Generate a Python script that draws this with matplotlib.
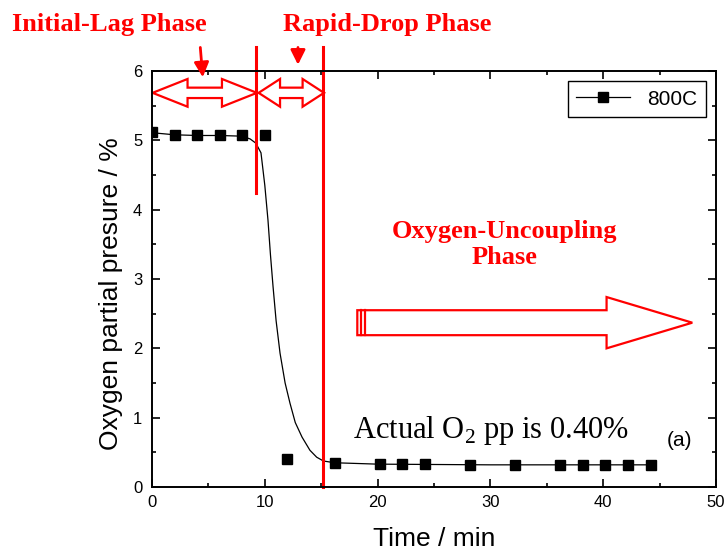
import numpy as np
import matplotlib.pyplot as plt
from matplotlib.patches import Polygon
from matplotlib.lines import Line2D
from matplotlib.ticker import MultipleLocator


## Data
# measured oxygen partial pressure at 800C
time_min = [0, 2, 4, 6, 8, 10, 12, 16.2, 20.2, 22.2, 24.2, 28.2, 32.2, 36.2, 38.2, 40.2, 42.2, 44.2]
o2_pp = [5.12, 5.08, 5.07, 5.07, 5.07, 5.08, 0.40, 0.35, 0.33, 0.33, 0.33, 0.32, 0.32, 0.32, 0.32, 0.32, 0.32, 0.32]

# fitted curve
fit_time = [0, 2, 4, 6, 8, 8.7, 9.2, 9.66, 10.0, 10.28, 10.5, 10.73, 11.0, 11.35, 11.8,
            12.23, 12.7, 13.3, 14.0, 14.6, 15.2, 16.2, 20, 25, 30, 35, 40, 44.2]
fit_o2 = [5.11, 5.08, 5.07, 5.07, 5.06, 5.02, 4.96, 4.82, 4.35, 3.85, 3.35, 2.89, 2.4, 1.93, 1.5,
          1.21, 0.93, 0.72, 0.53, 0.43, 0.375, 0.35, 0.33, 0.325, 0.32, 0.32, 0.32, 0.32]

# phase boundaries (min)
lag_end = 9.2
drop_end = 15.2

label_series = '800C'

plt.rcParams['font.family'] = ['Liberation Sans', 'DejaVu Sans']
plt.rcParams['mathtext.fontset'] = 'custom'
plt.rcParams['mathtext.rm'] = 'Liberation Serif'
RED = '#ff0000'
serif = ['Liberation Serif', 'DejaVu Serif']

## Plotting
fig = plt.figure(figsize=(7.26, 5.5), dpi=100)
ax = fig.add_axes([0.2094, 0.1145, 0.7768, 0.7564])

ax.plot(fit_time, fit_o2, 'k-', lw=0.9)
ax.plot(time_min, o2_pp, 'ks', ms=7, ls='none')

ax.set_xlim(0, 50)
ax.set_ylim(0, 6)
ax.xaxis.set_major_locator(MultipleLocator(10))
ax.xaxis.set_minor_locator(MultipleLocator(5))
ax.yaxis.set_major_locator(MultipleLocator(1))
ax.yaxis.set_minor_locator(MultipleLocator(0.5))
ax.tick_params(which='both', direction='in', top=True, right=True, width=1.2, labelsize=12)
ax.tick_params(which='major', length=6)
ax.tick_params(which='minor', length=3)
ax.tick_params(axis='x', pad=6)
ax.tick_params(axis='y', pad=7)
for sp in ax.spines.values():
    sp.set_linewidth(1.4)

ax.set_xlabel('Time / min', fontsize=19, labelpad=12)
ax.set_ylabel('Oxygen partial presure / %', fontsize=19)
ax.yaxis.set_label_coords(-0.052, 0.465)

handle = Line2D([], [], color='k', lw=0.9, marker='s', ms=7)
leg = ax.legend([handle], [label_series], loc='upper right', fontsize=15, fancybox=False,
                edgecolor='black', framealpha=1, handlelength=2.6, borderaxespad=0.5)
leg.get_frame().set_linewidth(1.0)

## Annotations
# phase boundaries
ax.plot([lag_end, lag_end], [4.24, 6.35], color=RED, lw=2.2, clip_on=False)
ax.plot([drop_end, drop_end], [0, 6.35], color=RED, lw=2.2, clip_on=False)

def double_arrow(x0, x1, hl):
    yc, hh, bh = 5.685, 0.2, 0.075
    pts = [(x0, yc), (x0 + hl, yc + hh), (x0 + hl, yc + bh), (x1 - hl, yc + bh),
           (x1 - hl, yc + hh), (x1, yc), (x1 - hl, yc - hh), (x1 - hl, yc - bh),
           (x0 + hl, yc - bh), (x0 + hl, yc - hh)]
    ax.add_patch(Polygon(pts, closed=True, fill=False, ec=RED, lw=1.6, clip_on=False))

double_arrow(0.05, 9.3, 3.1)
double_arrow(9.45, 15.25, 1.9)

ax.annotate('', xy=(4.52, 5.87), xytext=(4.26, 6.38), annotation_clip=False,
            arrowprops=dict(arrowstyle='-|>', color=RED, lw=2, mutation_scale=22))
ax.annotate('', xy=(12.94, 6.05), xytext=(12.94, 6.38), annotation_clip=False,
            arrowprops=dict(arrowstyle='-|>', color=RED, lw=2, mutation_scale=22))

# big outline arrow
big = [(18.2, 2.55), (40.3, 2.55), (40.3, 2.74), (47.9, 2.37), (40.3, 2.0),
       (40.3, 2.19), (18.2, 2.19)]
ax.add_patch(Polygon(big, closed=True, fill=False, ec=RED, lw=1.6))
ax.plot([18.55, 18.55], [2.19, 2.55], color=RED, lw=1.6)
ax.plot([18.9, 18.9], [2.19, 2.55], color=RED, lw=1.6)

fig.text(12 / 726, 1 - 25 / 550, 'Initial-Lag Phase', color=RED, fontsize=19,
         fontweight='bold', family=serif, ha='left', va='center')
fig.text(283 / 726, 1 - 25 / 550, 'Rapid-Drop Phase', color=RED, fontsize=19,
         fontweight='bold', family=serif, ha='left', va='center')
ax.text(31.25, 3.5, 'Oxygen-Uncoupling\nPhase', color=RED, fontsize=19, fontweight='bold',
        family=serif, ha='center', va='center', linespacing=1.15)

ax.text(17.85, 0.82, r'Actual O$_\mathrm{2}$ pp is 0.40%', fontsize=22, family=serif,
        ha='left', va='center')
ax.text(46.8, 0.67, '(a)', fontsize=15, ha='center', va='center')

fig.savefig('out.png', dpi=100)
